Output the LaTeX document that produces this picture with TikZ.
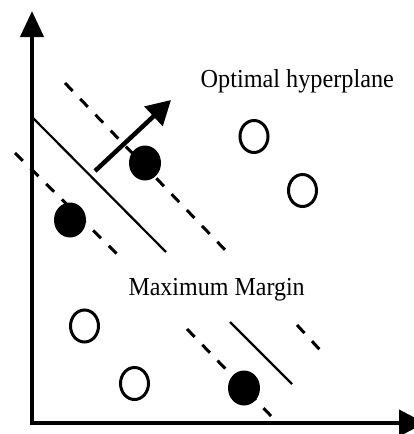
\documentclass[tikz,border=0pt]{standalone}
\usepackage{fontspec}
\setmainfont{Liberation Serif}
\usetikzlibrary{arrows.meta}
\begin{document}
\begin{tikzpicture}[x=1pt,y=-1pt,
  axisline/.style={line width=4pt},
  hyper/.style={line width=2.2pt},
  marginline/.style={line width=3pt,dash pattern=on 11pt off 11pt},
  normalvec/.style={line width=4.5pt,-{Triangle[length=24pt,width=26pt]}},
  filledpt/.style={fill=black},
  openpt/.style={draw=black,line width=3pt},
  lbl/.style={font=\fontsize{24}{28}\selectfont,inner sep=0pt}]
\useasboundingbox (0,0) rectangle (414,434);
\clip (0,0) rectangle (414,434);
% axes
\coordinate (ytip) at (32,11);
\coordinate (origin) at (32,423);
\coordinate (xtip) at (425,423);
\draw[axisline,{Triangle[length=26pt,width=23pt]}-{Triangle[length=26pt,width=26pt]}] (ytip) -- (origin) -- (xtip);
% hyperplane segments
\coordinate (h1a) at (32,117); \coordinate (h1b) at (166,252);
\coordinate (h2a) at (230,322); \coordinate (h2b) at (292,384);
\draw[hyper] (h1a) -- (h1b);
\draw[hyper] (h2a) -- (h2b);
% margin lines
\coordinate (u1a) at (65,83); \coordinate (u1b) at (228,253);
\coordinate (u2a) at (297,325); \coordinate (u2b) at (321,351);
\coordinate (l1a) at (15,153); \coordinate (l1b) at (117,254);
\coordinate (l2a) at (187,329); \coordinate (l2b) at (273,418);
\draw[marginline] (u1a) -- (u1b);
\draw[marginline] (u2a) -- (u2b);
\draw[marginline] (l1a) -- (l1b);
\draw[marginline] (l2a) -- (l2b);
% normal vector
\coordinate (nv1) at (95,171); \coordinate (nv2) at (171,100);
\draw[normalvec] (nv1) -- (nv2);
% filled points
\fill[filledpt] (145,163) ellipse [x radius=16, y radius=17.5];
\fill[filledpt] (70,220) ellipse [x radius=16, y radius=17.5];
\fill[filledpt] (244,388) ellipse [x radius=16, y radius=17.5];
% open points
\draw[openpt] (254,136.5) ellipse [x radius=14, y radius=16];
\draw[openpt] (302.5,190.5) ellipse [x radius=14, y radius=16];
\draw[openpt] (84.5,326) ellipse [x radius=14, y radius=16];
\draw[openpt] (134.5,383.5) ellipse [x radius=14, y radius=16];
% labels
\node[lbl,anchor=base west] (opt) at (200.5,87.3) {\scalebox{1.01}[1.08]{Optimal hyperplane}};
\node[lbl,anchor=base west] (mm) at (128.3,295) {\scalebox{1}[1.08]{Maximum Margin}};
\end{tikzpicture}
\end{document}
